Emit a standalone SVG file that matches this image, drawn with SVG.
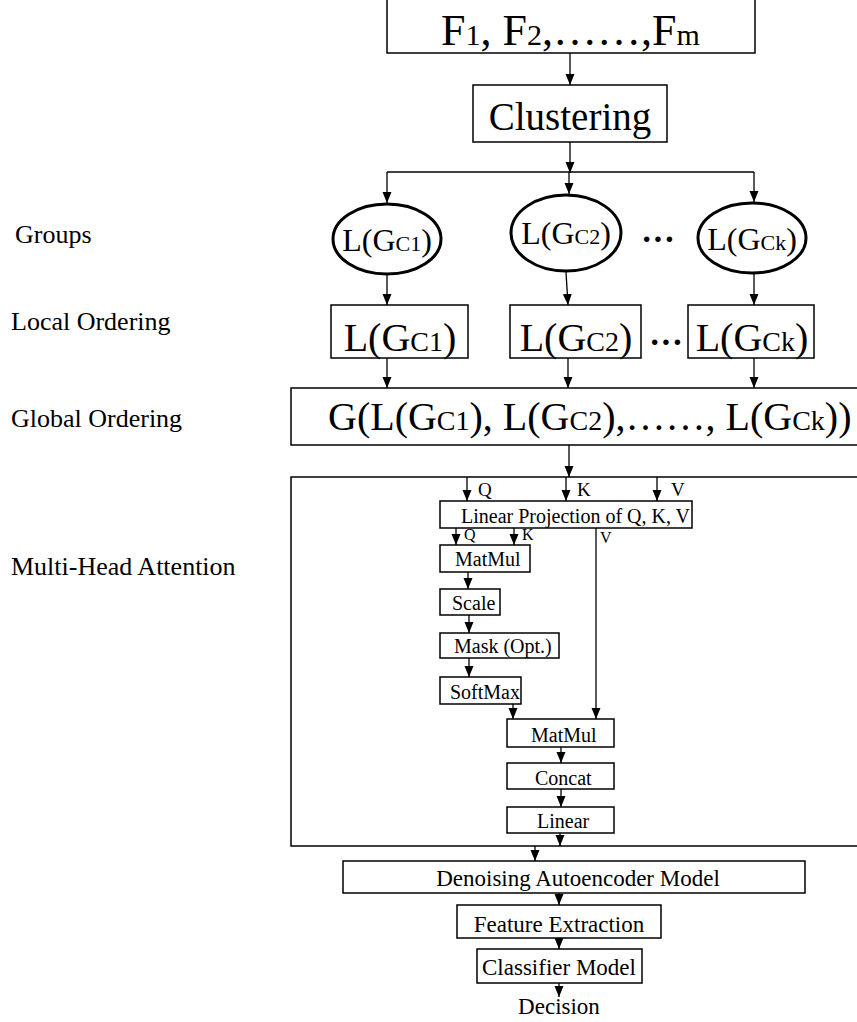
<svg xmlns="http://www.w3.org/2000/svg" width="857" height="1022" viewBox="0 0 857 1022" font-family="'Liberation Serif','Times New Roman',serif">
<defs>
<marker id="ah" markerUnits="userSpaceOnUse" markerWidth="11" markerHeight="10" refX="11" refY="5" orient="auto">
<path d="M0,0.5 L11,5 L0,9.5 z" fill="#000"/>
</marker>
<style>
.t{font-family:"Liberation Serif","Times New Roman",serif;fill:#000}
.box{fill:#fff;stroke:#000;stroke-width:1.5}
.frame{fill:none;stroke:#000;stroke-width:1.5}
.ell{fill:#fff;stroke:#000;stroke-width:3}
.c{fill:none;stroke:#000;stroke-width:1.3}
.a{fill:none;stroke:#000;stroke-width:1.3;marker-end:url(#ah)}
.lbl{font-size:26px}
.s20{font-size:20px}
</style>
</defs>
<rect width="857" height="1022" fill="#fff"/>

<g id="side-labels">
<text class="t lbl" x="15" y="243">Groups</text>
<text class="t lbl" x="11" y="330">Local Ordering</text>
<text class="t lbl" x="11" y="427">Global Ordering</text>
<text class="t lbl" x="11" y="575">Multi-Head Attention</text>
</g>

<g id="features">
<rect class="box" x="387" y="-3" width="368" height="56"/>
<text class="t" x="441" y="45" font-size="44">F<tspan font-size="30">1</tspan>, F<tspan font-size="30">2</tspan>,……,F<tspan font-size="30">m</tspan></text>
</g>

<g id="clustering">
<rect class="box" x="473" y="85" width="194" height="57"/>
<text class="t" x="570" y="130" font-size="39" text-anchor="middle">Clustering</text>
</g>

<g id="group1">
<ellipse class="ell" cx="387" cy="239" rx="54" ry="35"/>
<text class="t" x="387" y="251" font-size="32" text-anchor="middle">L(G<tspan font-size="22">C1</tspan>)</text>
</g>
<g id="group2">
<ellipse class="ell" cx="566" cy="233" rx="55" ry="38"/>
<text class="t" x="566" y="244" font-size="32" text-anchor="middle">L(G<tspan font-size="22">C2</tspan>)</text>
</g>
<text class="t" x="658" y="250" font-size="34" font-weight="bold" text-anchor="middle">···</text>
<g id="group3">
<ellipse class="ell" cx="752" cy="238" rx="54" ry="35"/>
<text class="t" x="752" y="250" font-size="32" text-anchor="middle">L(G<tspan font-size="22">Ck</tspan>)</text>
</g>

<g id="local1">
<rect class="box" x="331" y="305" width="137" height="53"/>
<text class="t" x="400" y="351" font-size="40" text-anchor="middle">L(G<tspan font-size="28">C1</tspan>)</text>
</g>
<g id="local2">
<rect class="box" x="510" y="305" width="131" height="53"/>
<text class="t" x="576" y="351" font-size="40" text-anchor="middle">L(G<tspan font-size="28">C2</tspan>)</text>
</g>
<text class="t" x="666" y="353" font-size="34" font-weight="bold" text-anchor="middle">···</text>
<g id="local3">
<rect class="box" x="688" y="305" width="126" height="53"/>
<text class="t" x="752" y="351" font-size="40" text-anchor="middle">L(G<tspan font-size="28">Ck</tspan>)</text>
</g>

<g id="global">
<rect class="box" x="291" y="388" width="580" height="57"/>
<text class="t" x="328" y="430" font-size="40">G(L(G<tspan font-size="28">C1</tspan>), L(G<tspan font-size="28">C2</tspan>),……, L(G<tspan font-size="28">Ck</tspan>))</text>
</g>

<g id="attention">
<rect class="frame" x="291" y="477" width="580" height="369"/>
<text class="t" x="478" y="496" font-size="19">Q</text>
<text class="t" x="577" y="496" font-size="19">K</text>
<text class="t" x="671" y="496" font-size="19">V</text>
<text class="t" x="464" y="540" font-size="16">Q</text>
<text class="t" x="522" y="540" font-size="16">K</text>
<text class="t" x="600" y="543" font-size="16">V</text>
</g>

<g id="linear-projection">
<rect class="box" x="440" y="501" width="252" height="27"/>
<text class="t s20" x="461" y="523">Linear Projection of Q, K, V</text>
</g>
<g id="matmul1">
<rect class="box" x="440" y="545" width="90" height="27"/>
<text class="t s20" x="455" y="566">MatMul</text>
</g>
<g id="scale">
<rect class="box" x="440" y="589" width="60" height="26"/>
<text class="t s20" x="452" y="610">Scale</text>
</g>
<g id="mask">
<rect class="box" x="440" y="633" width="119" height="25"/>
<text class="t s20" x="454" y="653">Mask (Opt.)</text>
</g>
<g id="softmax">
<rect class="box" x="440" y="677" width="81" height="27"/>
<text class="t s20" x="450" y="699">SoftMax</text>
</g>
<g id="matmul2">
<rect class="box" x="507" y="719" width="107" height="28"/>
<text class="t s20" x="531" y="742">MatMul</text>
</g>
<g id="concat">
<rect class="box" x="507" y="763" width="107" height="26"/>
<text class="t s20" x="535" y="785">Concat</text>
</g>
<g id="linear">
<rect class="box" x="507" y="807" width="107" height="26"/>
<text class="t s20" x="537" y="828">Linear</text>
</g>

<g id="denoising">
<rect class="box" x="343" y="861" width="462" height="32"/>
<text class="t" x="578" y="886" font-size="23" text-anchor="middle">Denoising Autoencoder Model</text>
</g>
<g id="feature-extraction">
<rect class="box" x="457" y="905" width="204" height="33"/>
<text class="t" x="559" y="932" font-size="23" text-anchor="middle">Feature Extraction</text>
</g>
<g id="classifier">
<rect class="box" x="477" y="949" width="165" height="34"/>
<text class="t" x="559" y="975" font-size="23" text-anchor="middle">Classifier Model</text>
</g>
<g id="decision">
<text class="t" x="559" y="1014" font-size="23" text-anchor="middle">Decision</text>
</g>

<g id="connectors">
<line class="a" x1="570" y1="53" x2="570" y2="85"/>
<line class="a" x1="570" y1="142" x2="570" y2="173"/>
<line class="c" x1="387" y1="172" x2="754" y2="172"/>
<line class="a" x1="387" y1="172" x2="387" y2="203"/>
<line class="a" x1="569" y1="172" x2="569" y2="194"/>
<line class="a" x1="754" y1="172" x2="754" y2="202"/>
<line class="a" x1="387" y1="275" x2="387" y2="305"/>
<line class="a" x1="566" y1="272" x2="568" y2="305"/>
<line class="a" x1="754" y1="274" x2="754" y2="305"/>
<line class="a" x1="387" y1="358" x2="387" y2="388"/>
<line class="a" x1="568" y1="358" x2="568" y2="388"/>
<line class="a" x1="754" y1="358" x2="754" y2="388"/>
<line class="a" x1="569" y1="445" x2="569" y2="477"/>
<line class="a" x1="467" y1="477" x2="467" y2="501"/>
<line class="a" x1="566" y1="477" x2="566" y2="501"/>
<line class="a" x1="657" y1="477" x2="657" y2="501"/>
<line class="a" x1="456" y1="528" x2="456" y2="545"/>
<line class="a" x1="514" y1="528" x2="514" y2="545"/>
<line class="a" x1="596" y1="528" x2="596" y2="719"/>
<line class="a" x1="468" y1="572" x2="468" y2="589"/>
<line class="a" x1="469" y1="615" x2="469" y2="633"/>
<line class="a" x1="469" y1="658" x2="469" y2="677"/>
<line class="a" x1="513" y1="704" x2="513" y2="719"/>
<line class="a" x1="561" y1="747" x2="561" y2="763"/>
<line class="a" x1="561" y1="789" x2="561" y2="807"/>
<line class="a" x1="560" y1="833" x2="560" y2="846"/>
<line class="a" x1="535" y1="846" x2="535" y2="861"/>
<line class="a" x1="559" y1="893" x2="559" y2="905"/>
<line class="a" x1="559" y1="938" x2="559" y2="949"/>
<line class="a" x1="559" y1="983" x2="559" y2="997"/>
</g>
</svg>
